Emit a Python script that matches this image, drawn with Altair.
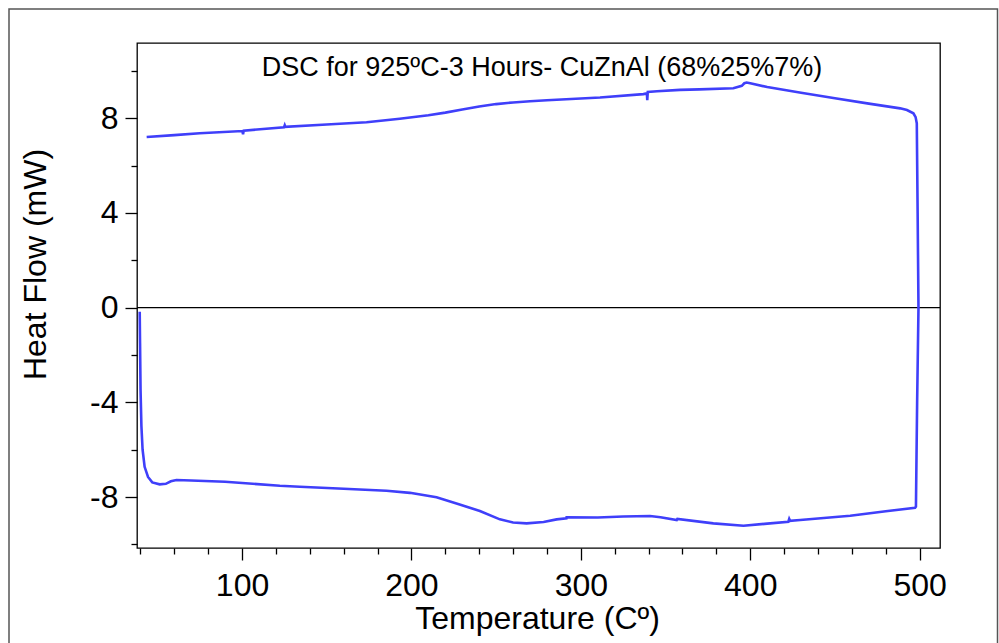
import altair as alt
import pandas as pd

# DSC trace: heating run (40 -> 500 C), isothermal turn, cooling run back to ~44 C
temperature = [
    39.6, 39.8, 40.1, 40.6, 41.3, 42.5, 44.5, 47.0, 51.4, 55.0, 58.0, 61.3,
    70.0, 90.0, 122.3, 134.1, 160.0, 185.3, 199.1, 214.8, 228.0, 240.4,
    252.2, 260.0, 268.0, 278.0, 285.7, 291.5, 291.6, 310.0, 325.0, 340.8,
    347.0, 356.6, 357.0, 378.2, 396.0, 410.0, 422.5, 423.0, 423.5, 429.5,
    459.0, 480.0, 497.3,
    497.8, 498.5, 499.3, 498.8, 498.3, 497.6, 496.3, 492.5, 488.5,
    470.0, 450.0, 430.0, 410.0, 400.0, 397.9, 396.5, 395.0, 390.0, 370.0,
    358.5, 345.0, 339.5, 339.2, 339.0, 336.9, 311.3, 280.0, 270.0, 260.0,
    250.0, 240.0, 230.0, 220.0, 210.0, 193.1, 173.5, 150.0, 125.5, 125.2,
    124.8, 101.0, 100.6, 100.2, 75.0, 60.0, 43.7,
]
heat_flow = [
    -0.17, -1.5, -3.5, -5.0, -6.0, -6.72, -7.15, -7.38, -7.46, -7.44, -7.33, -7.28,
    -7.30, -7.35, -7.52, -7.56, -7.65, -7.73, -7.82, -8.01, -8.30, -8.59,
    -8.94, -9.07, -9.11, -9.05, -8.94, -8.90, -8.85, -8.86, -8.82, -8.80,
    -8.85, -8.97, -8.92, -9.11, -9.21, -9.12, -9.04, -8.92, -9.00, -8.97,
    -8.79, -8.60, -8.45,
    -8.40, -4.0, 0.0, 4.0, 7.79, 8.05, 8.21, 8.35, 8.42,
    8.62, 8.85, 9.08, 9.32, 9.48, 9.51, 9.48, 9.37, 9.27, 9.22,
    9.20, 9.14, 9.11, 8.76, 9.05, 9.02, 8.88, 8.76, 8.72, 8.67,
    8.60, 8.50, 8.37, 8.24, 8.13, 7.98, 7.83, 7.74, 7.64, 7.70,
    7.62, 7.48, 7.33, 7.46, 7.37, 7.29, 7.21,
]

x_major = [100, 200, 300, 400, 500]
x_minor = [40, 60, 80, 120, 140, 160, 180, 220, 240, 260, 280, 320, 340, 360,
           380, 420, 440, 460, 480]
y_major = [-8, -4, 0, 4, 8]
y_minor = [-10, -6, -2, 2, 6, 10]

title_text = "DSC for 925ºC-3 Hours- CuZnAl (68%25%7%)"
FONT = "Liberation Sans"

df = pd.DataFrame({"T": temperature, "HF": heat_flow})
df["i"] = range(len(df))

xs = alt.Scale(domain=[38, 512], nice=False, zero=False)
ys = alt.Scale(domain=[-10.15, 11.18], nice=False, zero=False)

x_axis_major = alt.Axis(
    values=x_major, tickSize=12, tickWidth=1.3, tickColor="black",
    labelFontSize=32, labelFont=FONT, labelColor="black", labelPadding=10,
    labelExpr="'' + datum.value",
    title="Temperature (Cº)", titleFont=FONT, titleFontSize=32,
    titleFontWeight="normal", titleColor="black",
    titleX=400, titleY=80, titleBaseline="alphabetic", titleAlign="center",
    domain=False, grid=False, orient="bottom",
)
x_axis_minor = alt.Axis(
    values=x_minor, tickSize=6, tickWidth=1.3, tickColor="black",
    labels=False, title=None, domain=False, grid=False, orient="bottom",
)
y_axis_major = alt.Axis(
    values=y_major, tickSize=12, tickWidth=1.3, tickColor="black",
    labelFontSize=32, labelFont=FONT, labelColor="black", labelPadding=7,
    labelExpr="'' + datum.value",
    title="Heat Flow (mW)", titleFont=FONT, titleFontSize=32,
    titleFontWeight="normal", titleColor="black", titleAngle=270,
    titleX=-92, titleY=221, titleBaseline="alphabetic", titleAlign="center",
    domain=False, grid=False, orient="left",
)
y_axis_minor = alt.Axis(
    values=y_minor, tickSize=6, tickWidth=1.3, tickColor="black",
    labels=False, title=None, domain=False, grid=False, orient="left",
)

curve = alt.Chart(df).mark_line(color="#3f3ffa", strokeWidth=2.6).encode(
    x=alt.X("T:Q", scale=xs, axis=x_axis_major),
    y=alt.Y("HF:Q", scale=ys, axis=y_axis_major),
    order=alt.Order("i:Q"),
)

minor_ticks = alt.Chart(df).mark_line(opacity=0).encode(
    x=alt.X("T:Q", scale=xs, axis=x_axis_minor),
    y=alt.Y("HF:Q", scale=ys, axis=y_axis_minor),
    order=alt.Order("i:Q"),
)

zero_line = alt.Chart(pd.DataFrame({"z": [0]})).mark_rule(
    color="black", strokeWidth=1.3
).encode(y=alt.Y("z:Q", scale=ys, axis=None))

heading = alt.Chart(pd.DataFrame({"t": [title_text]})).mark_text(
    font=FONT, fontSize=27, color="black", align="center", baseline="alphabetic"
).encode(text="t:N", x=alt.value(405), y=alt.value(33))

outer_frame = alt.Chart(pd.DataFrame({"a": [0]})).mark_rect(
    filled=False, stroke="#555555", strokeWidth=1.5
).encode(
    x=alt.value(-128), x2=alt.value(860.5), y=alt.value(-34), y2=alt.value(640)
)

chart = (
    alt.layer(outer_frame, zero_line, minor_ticks, curve, heading)
    .resolve_axis(x="independent", y="independent")
    .properties(
        width=803,
        height=505,
        padding={"left": 137, "top": 43, "right": 59, "bottom": 95},
        autosize=alt.AutoSizeParams(type="none"),
        background="white",
    )
    .configure_view(stroke="black", strokeWidth=1.3)
)

chart.save("out.html", embed_options={"renderer": "svg", "actions": False})
